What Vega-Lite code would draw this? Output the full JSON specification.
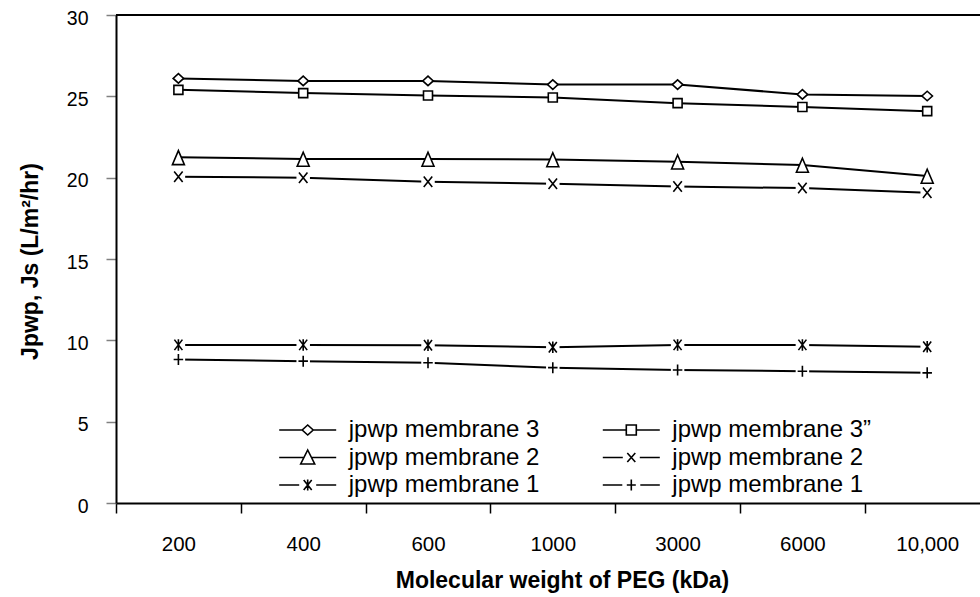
{
  "$schema": "https://vega.github.io/schema/vega-lite/v6.json",
  "width": 864,
  "height": 488,
  "autosize": {"type": "none"},
  "padding": {"left": 116, "top": 15, "right": 0, "bottom": 94},
  "background": "white",
  "config": {"view": {"stroke": null}, "font": "Liberation Sans"},
  "data": {
    "values": [
      {"mw": "200", "series": "m3", "value": 26.1},
      {"mw": "400", "series": "m3", "value": 25.95},
      {"mw": "600", "series": "m3", "value": 25.95},
      {"mw": "1000", "series": "m3", "value": 25.72},
      {"mw": "3000", "series": "m3", "value": 25.72},
      {"mw": "6000", "series": "m3", "value": 25.12},
      {"mw": "10,000", "series": "m3", "value": 25.02},
      {"mw": "200", "series": "m3q", "value": 25.4},
      {"mw": "400", "series": "m3q", "value": 25.2},
      {"mw": "600", "series": "m3q", "value": 25.05},
      {"mw": "1000", "series": "m3q", "value": 24.93},
      {"mw": "3000", "series": "m3q", "value": 24.58},
      {"mw": "6000", "series": "m3q", "value": 24.34},
      {"mw": "10,000", "series": "m3q", "value": 24.09},
      {"mw": "200", "series": "m2t", "value": 21.25},
      {"mw": "400", "series": "m2t", "value": 21.15},
      {"mw": "600", "series": "m2t", "value": 21.15},
      {"mw": "1000", "series": "m2t", "value": 21.12},
      {"mw": "3000", "series": "m2t", "value": 20.98},
      {"mw": "6000", "series": "m2t", "value": 20.78},
      {"mw": "10,000", "series": "m2t", "value": 20.1},
      {"mw": "200", "series": "m2x", "value": 20.05},
      {"mw": "400", "series": "m2x", "value": 20.0},
      {"mw": "600", "series": "m2x", "value": 19.75},
      {"mw": "1000", "series": "m2x", "value": 19.62},
      {"mw": "3000", "series": "m2x", "value": 19.45},
      {"mw": "6000", "series": "m2x", "value": 19.36},
      {"mw": "10,000", "series": "m2x", "value": 19.08},
      {"mw": "200", "series": "m1s", "value": 9.72},
      {"mw": "400", "series": "m1s", "value": 9.72},
      {"mw": "600", "series": "m1s", "value": 9.7},
      {"mw": "1000", "series": "m1s", "value": 9.58},
      {"mw": "3000", "series": "m1s", "value": 9.72},
      {"mw": "6000", "series": "m1s", "value": 9.72},
      {"mw": "10,000", "series": "m1s", "value": 9.6},
      {"mw": "200", "series": "m1p", "value": 8.82},
      {"mw": "400", "series": "m1p", "value": 8.72},
      {"mw": "600", "series": "m1p", "value": 8.62},
      {"mw": "1000", "series": "m1p", "value": 8.32},
      {"mw": "3000", "series": "m1p", "value": 8.18},
      {"mw": "6000", "series": "m1p", "value": 8.1},
      {"mw": "10,000", "series": "m1p", "value": 8.0}
    ]
  },
  "resolve": {"scale": {"shape": "independent"}},
  "layer": [
    {
      "data": {"values": [{}]},
      "mark": {"type": "rule", "color": "black", "strokeWidth": 2},
      "encoding": {"y": {"datum": 30, "type": "quantitative"}}
    },
    {
      "mark": {"type": "line", "color": "black", "strokeWidth": 2},
      "encoding": {
        "x": {
          "field": "mw", "type": "ordinal",
          "sort": ["200", "400", "600", "1000", "3000", "6000", "10,000"],
          "scale": {"type": "band", "paddingInner": 0, "paddingOuter": 0, "range": [0, 873.6]},
          "axis": {
            "title": "Molecular weight of PEG (kDa)",
            "titleFont": "Liberation Sans", "titleFontSize": 23, "titleFontWeight": "bold", "titleColor": "black",
            "titleX": 446, "titleY": 77, "titleBaseline": "middle", "titleAlign": "center",
            "tickBand": "extent", "tickSize": 10, "tickColor": "black", "tickWidth": 1.5,
            "domainColor": "black", "domainWidth": 2,
            "labelFont": "Liberation Sans", "labelFontSize": 20.5, "labelColor": "black",
            "labelPadding": 31, "labelBaseline": "middle", "labelAngle": 0, "grid": false
          }
        },
        "y": {
          "field": "value", "type": "quantitative",
          "scale": {"domain": [0, 30], "nice": false},
          "axis": {
            "title": "Jpwp, Js (L/m²/hr)",
            "titleFont": "Liberation Sans", "titleFontSize": 23, "titleFontWeight": "bold", "titleColor": "black",
            "titleX": -86, "titleY": 246, "titleAngle": -90, "titleBaseline": "middle", "titleAlign": "center",
            "values": [0, 5, 10, 15, 20, 25, 30],
            "tickSize": 10, "tickColor": "#808080", "tickWidth": 1.5,
            "domainColor": "black", "domainWidth": 2,
            "labelFont": "Liberation Sans", "labelFontSize": 19.5, "labelColor": "black",
            "labelPadding": 18, "labelBaseline": "middle", "labelOffset": 3, "grid": false
          }
        },
        "detail": {"field": "series"}
      }
    },
    {
      "transform": [{"filter": {"field": "series", "oneOf": ["m2x", "m1s", "m1p"]}}],
      "mark": {"type": "point", "shape": "M-1.35,-1.1H1.35V1.1H-1.35Z", "filled": true, "color": "white", "size": 100, "strokeWidth": 0, "opacity": 1},
      "encoding": {
        "x": {"field": "mw", "type": "ordinal", "sort": ["200", "400", "600", "1000", "3000", "6000", "10,000"]},
        "y": {"field": "value", "type": "quantitative"}
      }
    },
    {
      "mark": {"type": "point", "fill": "white", "stroke": "black", "strokeWidth": 1.6, "size": 100, "opacity": 1},
      "encoding": {
        "x": {"field": "mw", "type": "ordinal", "sort": ["200", "400", "600", "1000", "3000", "6000", "10,000"]},
        "y": {"field": "value", "type": "quantitative"},
        "shape": {
          "field": "series", "type": "nominal",
          "scale": {
            "domain": ["m3", "m3q", "m2t", "m2x", "m1s", "m1p"],
            "range": [
              "M0,-0.95L1.05,0L0,0.95L-1.05,0Z",
              "M-0.9,-0.9H0.9V0.9H-0.9Z",
              "M0,-1.35L1.2,1.45H-1.2Z",
              "M-0.85,-1.05L0.85,1.05M-0.85,1.05L0.85,-1.05",
              "M-0.8,-1.05L0.8,1.05M-0.8,1.05L0.8,-1.05M0,-1.15V1.15",
              "M-0.95,0H0.95M0,-1.1V1.1"
            ]
          },
          "legend": null
        }
      }
    },
    {
      "transform": [{"filter": "false"}],
      "mark": {"type": "point", "fill": "white", "stroke": "black", "strokeWidth": 1.6, "size": 400, "opacity": 1},
      "encoding": {
        "x": {"field": "mw", "type": "ordinal", "sort": ["200", "400", "600", "1000", "3000", "6000", "10,000"]},
        "y": {"field": "value", "type": "quantitative"},
        "shape": {
          "field": "series", "type": "nominal",
          "scale": {
            "domain": ["m3", "m3q", "m2t", "m2x", "m1s", "m1p"],
            "range": [
              "M-2.85,0H-0.55M0.55,0H2.85M0,-0.5L0.55,0L0,0.5L-0.55,0Z",
              "M-2.85,0H-0.5M0.5,0H2.85M-0.5,-0.5H0.5V0.5H-0.5Z",
              "M-2.85,0H-0.38M0.38,0H2.85M0,-0.75L0.7,0.65H-0.7Z",
              "M-2.85,0H-0.85M0.85,0H2.85M-0.4,-0.45L0.4,0.45M-0.4,0.45L0.4,-0.45",
              "M-2.85,0H-0.85M0.85,0H2.85M-0.4,-0.5L0.4,0.5M-0.4,0.5L0.4,-0.5M0,-0.55V0.55",
              "M-2.85,0H-0.9M0.9,0H2.85M-0.45,0H0.45M0,-0.55V0.55"
            ]
          },
          "legend": {
            "orient": "none", "legendX": 179.7, "legendY": 403,
            "columns": 2, "direction": "horizontal", "title": null,
            "labelExpr": "datum.value == 'm3' ? 'jpwp membrane 3' : datum.value == 'm3q' ? 'jpwp membrane 3”' : (datum.value == 'm2t' || datum.value == 'm2x') ? 'jpwp membrane 2' : 'jpwp membrane 1'",
            "labelFont": "Liberation Sans", "labelFontSize": 24, "labelColor": "black", "labelLimit": 400,
            "symbolSize": 400, "symbolStrokeWidth": 1.6,
            "labelOffset": 29, "columnPadding": 59.6, "rowPadding": 3.5
          }
        }
      }
    }
  ]
}
